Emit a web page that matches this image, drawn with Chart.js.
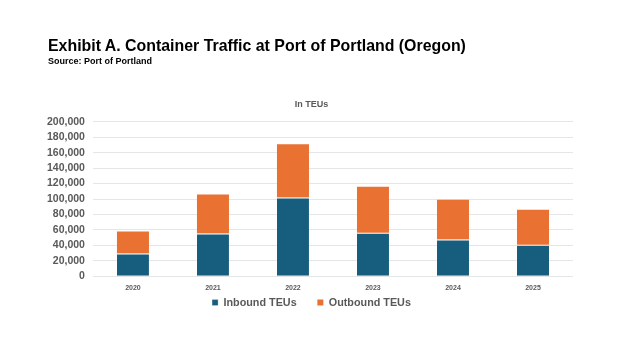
<!DOCTYPE html>
<html>
<head>
<meta charset="utf-8">
<script src="https://cdn.jsdelivr.net/npm/chart.js@4"></script>
<style>
  body { margin: 0; background: #fff; font-family: "Liberation Sans", Arial, sans-serif; }
  #wrap { position: relative; width: 624px; height: 351px; }
  #title { position: absolute; left: 48px; top: 37px; font-size: 15.9px; font-weight: bold; color: #000; white-space: nowrap; }
  #source { position: absolute; left: 48px; top: 56px; font-size: 9px; font-weight: bold; color: #000; }
  canvas { position: absolute; left: 0; top: 0; }
</style>
</head>
<body>
<div id="wrap">
  <canvas id="chart" width="624" height="351"></canvas>
  <div id="title">Exhibit A. Container Traffic at Port of Portland (Oregon)</div>
  <div id="source">Source: Port of Portland</div>
</div>
<script>
const years = ['2020', '2021', '2022', '2023', '2024', '2025'];
const inbound = [29500, 55500, 102000, 56500, 47500, 41000];
const outbound = [28500, 50500, 69000, 59500, 51500, 45000];

const grey = '#595959';

// title and legend are centred on the page, not on the padded box
const recenter = {
  id: 'recenter',
  afterLayout(chart) {
    chart.legend.left += 11;
    chart.titleBlock.left += 11;
  }
};

new Chart(document.getElementById('chart'), {
  type: 'bar',
  data: {
    labels: years,
    datasets: [
      { label: 'Inbound TEUs', data: inbound, backgroundColor: '#175e7e', borderColor: '#ffffff', borderWidth: { top: 1 }, borderSkipped: false },
      { label: 'Outbound TEUs', data: outbound, backgroundColor: '#e97132', borderWidth: 0 }
    ]
  },
  options: {
    responsive: false,
    animation: false,
    layout: { padding: { top: 99, left: 39, right: 51, bottom: 33 } },
    datasets: { bar: { barPercentage: 0.4, categoryPercentage: 1.0 } },
    scales: {
      x: {
        stacked: true,
        grid: { display: false },
        border: { display: false },
        ticks: { color: grey, padding: 0, font: { size: 7, weight: 'bold' } }
      },
      y: {
        stacked: true,
        min: 0,
        max: 200000,
        grid: { color: '#e6e6e6', drawTicks: false },
        border: { display: false },
        ticks: {
          stepSize: 20000,
          autoSkip: false,
          color: grey,
          padding: 8,
          font: { size: 10.5, weight: 'bold' },
          callback: v => v.toLocaleString('en-US')
        }
      }
    },
    plugins: {
      title: {
        display: true,
        text: 'In TEUs',
        color: grey,
        font: { size: 9, weight: 'bold' },
        padding: { top: 0, bottom: 12 }
      },
      legend: {
        position: 'bottom',
        labels: {
          color: grey,
          boxWidth: 6,
          boxHeight: 6,
          padding: 4.5,
          font: { size: 10.8, weight: 'bold' },
          generateLabels: chart => {
            const items = Chart.defaults.plugins.legend.labels.generateLabels(chart);
            // wider gap between the two legend entries
            items[0].text += '\u2002\u2002\u2002';
            return items;
          }
        }
      },
      tooltip: { enabled: false }
    }
  },
  plugins: [recenter]
});
</script>
</body>
</html>
